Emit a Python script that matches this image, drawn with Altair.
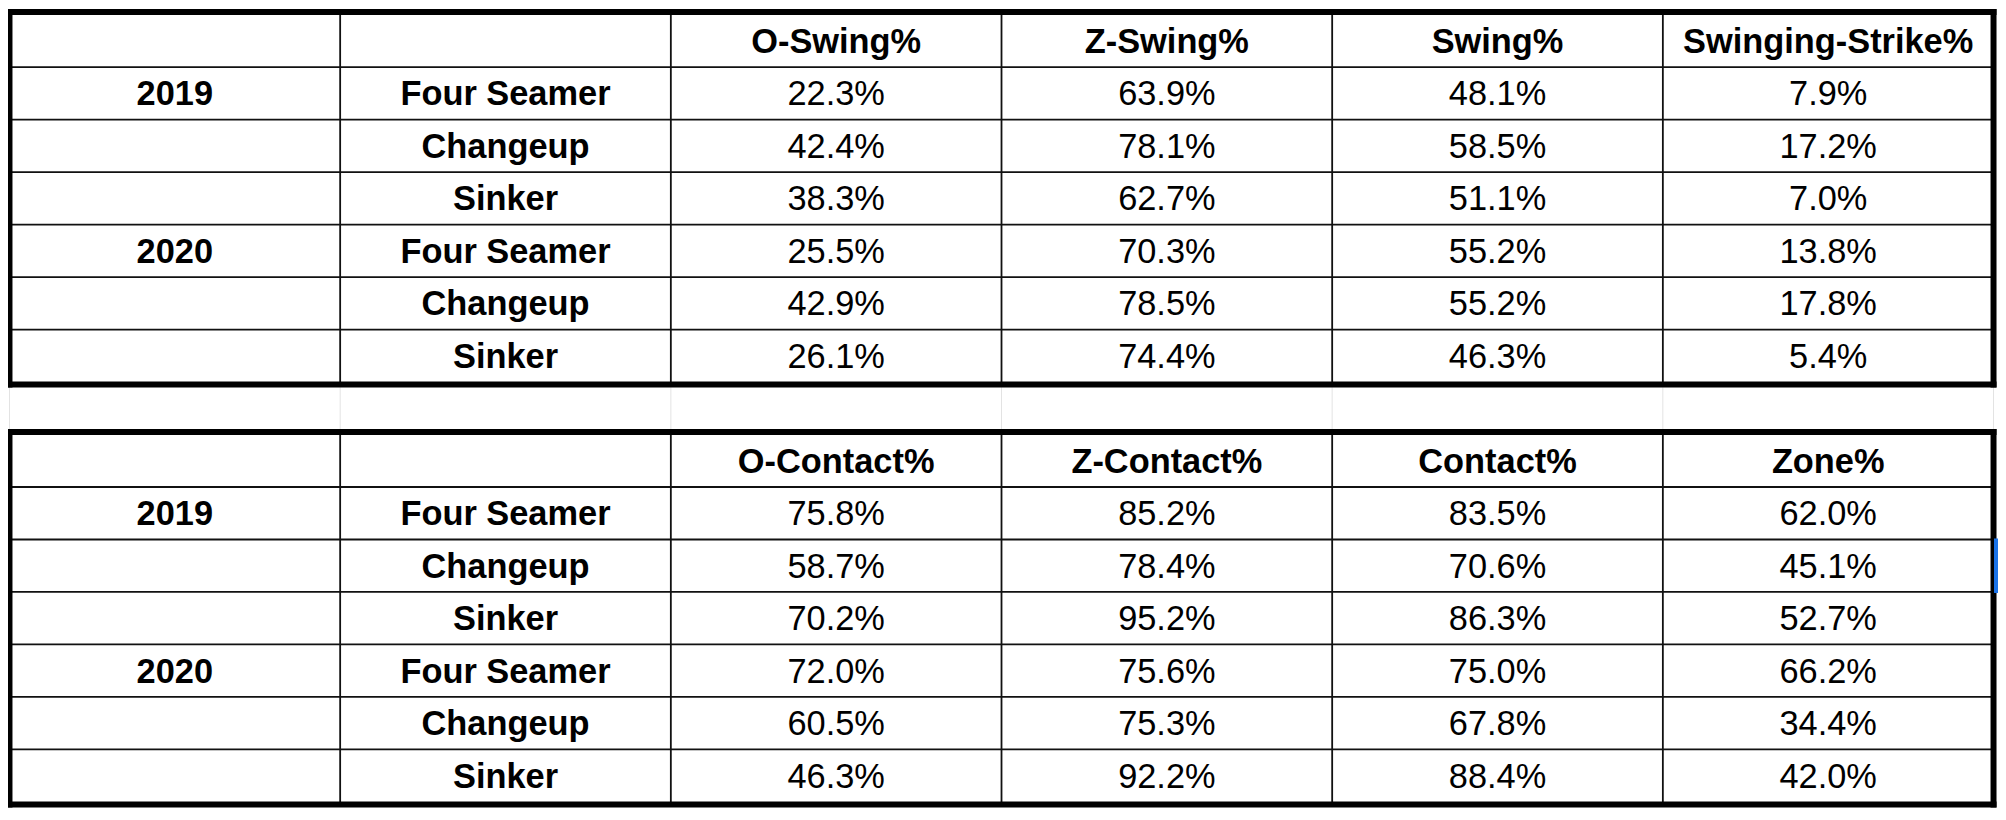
import altair as alt
import pandas as pd

# ---- data ----
years = ["2019", "", "", "2020", "", ""]
pitches = ["Four Seamer", "Changeup", "Sinker", "Four Seamer", "Changeup", "Sinker"]

headers_1 = ["O-Swing%", "Z-Swing%", "Swing%", "Swinging-Strike%"]
o_swing = [22.3, 42.4, 38.3, 25.5, 42.9, 26.1]
z_swing = [63.9, 78.1, 62.7, 70.3, 78.5, 74.4]
swing = [48.1, 58.5, 51.1, 55.2, 55.2, 46.3]
sw_strike = [7.9, 17.2, 7.0, 13.8, 17.8, 5.4]

headers_2 = ["O-Contact%", "Z-Contact%", "Contact%", "Zone%"]
o_contact = [75.8, 58.7, 70.2, 72.0, 60.5, 46.3]
z_contact = [85.2, 78.4, 95.2, 75.6, 75.3, 92.2]
contact = [83.5, 70.6, 86.3, 75.0, 67.8, 88.4]
zone = [62.0, 45.1, 52.7, 66.2, 34.4, 42.0]

tables = [
    (0, headers_1, [o_swing, z_swing, swing, sw_strike]),
    (8, headers_2, [o_contact, z_contact, contact, zone]),
]
N_COLS = 6
N_ROWS = 7

# selected-row indicator (second table, Changeup 2019 row)
selected = [{"x": N_COLS, "y": 10, "y2": 11}]

# ---- build cell table ----
cells = []
for start, headers, series in tables:
    for j, h in enumerate(headers):
        cells.append({"xc": j + 2.5, "yc": start + 0.5, "text": h, "bold": True})
    for i in range(len(pitches)):
        r = start + 1 + i
        cells.append({"xc": 0.5, "yc": r + 0.5, "text": years[i], "bold": True})
        cells.append({"xc": 1.5, "yc": r + 0.5, "text": pitches[i], "bold": True})
        for j, s in enumerate(series):
            cells.append({"xc": j + 2.5, "yc": r + 0.5, "text": f"{s[i]:.1f}%", "bold": False})
cells = pd.DataFrame(cells)
cells = cells[cells["text"] != ""]

thin_h, thin_v, top_b, bot_b, side_b = [], [], [], [], []
for start, _, _ in tables:
    for k in range(1, N_ROWS):
        thin_h.append({"x": 0, "x2": N_COLS, "y": start + k})
    for c in range(1, N_COLS):
        thin_v.append({"x": c, "y": start, "y2": start + N_ROWS})
    top_b.append({"x": 0, "x2": N_COLS, "y": start})
    bot_b.append({"x": 0, "x2": N_COLS, "y": start + N_ROWS})
    for c in (0, N_COLS):
        side_b.append({"x": c, "y": start, "y2": start + N_ROWS})

grid_cols = pd.DataFrame({"x": list(range(N_COLS + 1))})

xs = alt.Scale(domain=[-0.0045, 6.0075], nice=False, zero=False)
ys = alt.Scale(domain=[-0.095, 15.085], nice=False, zero=False, reverse=True)

X = lambda f: alt.X(f, type="quantitative", scale=xs, axis=None)
Y = lambda f: alt.Y(f, type="quantitative", scale=ys, axis=None)

faint = alt.Chart(grid_cols).mark_rule(color="#e3e3e3", strokeWidth=1).encode(x=X("x"))

thinh = alt.Chart(pd.DataFrame(thin_h)).mark_rule(color="#111111", strokeWidth=1.8).encode(
    x=X("x"), x2="x2", y=Y("y"))
thinv = alt.Chart(pd.DataFrame(thin_v)).mark_rule(color="#111111", strokeWidth=1.8).encode(
    x=X("x"), y=Y("y"), y2="y2")

topb = alt.Chart(pd.DataFrame(top_b)).mark_rule(
    color="black", strokeWidth=6, strokeCap="square", yOffset=-2.5).encode(x=X("x"), x2="x2", y=Y("y"))
botb = alt.Chart(pd.DataFrame(bot_b)).mark_rule(
    color="black", strokeWidth=6, strokeCap="square", yOffset=2.5).encode(x=X("x"), x2="x2", y=Y("y"))
sideb = alt.Chart(pd.DataFrame(side_b)).mark_rule(
    color="black", strokeWidth=6, yOffset=-5.5, y2Offset=5.5).encode(x=X("x"), y=Y("y"), y2="y2")

sel = alt.Chart(pd.DataFrame(selected)).mark_rule(
    color="#1a73e8", strokeWidth=4, xOffset=2.5, yOffset=-1, y2Offset=1).encode(
    x=X("x"), y=Y("y"), y2="y2")

txt_kw = dict(font="Liberation Sans", fontSize=34.5, baseline="alphabetic", dy=12,
              align="center", color="black")
bold_txt = alt.Chart(cells[cells["bold"]]).mark_text(fontWeight="bold", **txt_kw).encode(
    x=X("xc"), y=Y("yc"), text="text:N")
norm_txt = alt.Chart(cells[~cells["bold"]]).mark_text(fontWeight="normal", **txt_kw).encode(
    x=X("xc"), y=Y("yc"), text="text:N")

chart = alt.layer(faint, thinh, thinv, topb, botb, sideb, sel, bold_txt, norm_txt).properties(
    width=1996, height=800,
    autosize=alt.AutoSizeParams(type="none"),
    padding={"left": 0, "top": 0, "right": 2, "bottom": 0},
    background="white",
).configure_view(stroke=None)

chart.save("out.html", embed_options={"renderer": "svg", "actions": False})
